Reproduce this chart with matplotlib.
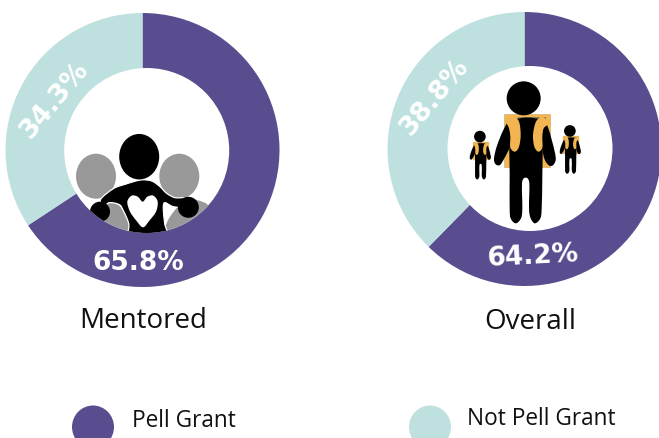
import matplotlib
matplotlib.use("Agg")
import matplotlib.pyplot as plt
from matplotlib.patches import Circle, Ellipse, PathPatch, Rectangle
from matplotlib.path import Path

groups = ["Mentored", "Overall"]
pell = [65.8, 64.2]
not_pell = [34.3, 38.8]
legend_labels = ["Pell Grant", "Not Pell Grant"]
PURPLE, TEAL = "#5a4d8f", "#bee0df"
ORANGE, GREY = "#f2b551", "#999999"
H = 438

plt.rcParams["font.family"] = ["Open Sans", "DejaVu Sans"]
fig = plt.figure(figsize=(6.59, 4.38), dpi=100)
ax = fig.add_axes([0, 0, 1, 1])


def Y(y):
    return H - y


for cx, cy, a, b in [(142.5, 150, pell[0], not_pell[0]), (524.5, 149, pell[1], not_pell[1])]:
    ax.pie([a, b], colors=[PURPLE, TEAL], startangle=90, counterclock=False,
           radius=137, center=(cx, Y(cy)), frame=True)
ax.set_xlim(0, 659)
ax.set_ylim(0, H)
ax.set_aspect("auto")
ax.axis("off")

holeL = Circle((146.7, Y(150.5)), 82.5, fc="white", ec="none", zorder=3)
holeR = Circle((530, Y(148.5)), 82.5, fc="white", ec="none", zorder=3)
ax.add_patch(holeL)
ax.add_patch(holeR)


def smooth(points):
    """Closed Catmull-Rom outline passing through the given points."""
    n = len(points)
    verts = [points[0]]
    codes = [Path.MOVETO]
    for i in range(n):
        p0, p1, p2, p3 = points[i - 1], points[i], points[(i + 1) % n], points[(i + 2) % n]
        c1 = (p1[0] + (p2[0] - p0[0]) / 6, p1[1] + (p2[1] - p0[1]) / 6)
        c2 = (p2[0] - (p3[0] - p1[0]) / 6, p2[1] - (p3[1] - p1[1]) / 6)
        verts += [c1, c2, p2]
        codes += [Path.CURVE4, Path.CURVE4, Path.CURVE4]
    return Path(verts, codes)


# ---- mentor icon, outline points taken from a 3x view with origin (70,130)
def m(p):
    return (70 + p[0] / 3, Y(130 + p[1] / 3))


def add_m(points, color, z=4, ec="none", lw=0):
    patch = PathPatch(smooth([m(p) for p in points]), fc=color, ec=ec, lw=lw, zorder=z)
    ax.add_patch(patch)
    patch.set_clip_path(holeL)
    return patch


# grey figures
for cx in (96, 179.3):
    ax.add_patch(Ellipse((cx, Y(176.2)), 40, 45, fc=GREY, ec="none", zorder=4))
add_m([(110, 213), (145, 225), (170, 260), (185, 300), (188, 330), (70, 330), (70, 270), (105, 240)], GREY, 4)
add_m([(380, 210), (420, 235), (430, 330), (285, 330), (290, 280), (315, 240), (345, 210)], GREY, 4)

# mentor, with a thin white edge separating it from the grey figures
mentor = [(212, 150), (245, 153), (270, 170), (290, 190), (315, 203), (345, 205), (345, 230),
          (310, 230), (284, 218), (280, 240), (284, 280), (288, 330), (184, 330), (176, 280),
          (160, 242), (148, 224), (118, 218), (100, 230), (92, 208), (130, 176), (165, 163)]
add_m(mentor, "black", 6, ec="white", lw=0.9)
ax.add_patch(Ellipse((139.2, Y(156.7)), 40, 45.5, fc="black", ec="none", zorder=6))
hand1 = Circle((100, Y(211.7)), 10, fc="black", ec="none", zorder=6)
hand2 = Circle((188.3, Y(207.3)), 10.5, fc="black", ec="none", zorder=6)
ax.add_patch(hand1)
ax.add_patch(hand2)
hand1.set_clip_path(holeL)
hand2.set_clip_path(holeL)
# heart
heart = [(218, 215), (232, 200), (250, 197), (263, 215), (258, 245), (238, 272), (219, 292),
         (199, 272), (180, 245), (172, 215), (185, 197), (203, 200)]
add_m(heart, "white", 7)


# ---- student icons, outline points taken from a 3x view with origin (465,75)
def person(cx, top, s):
    def t(p):
        x = cx + s * (p[0] - 177)
        y = top + s * (p[1] - 18)
        return (465 + x / 3, Y(75 + y / 3))

    def shape(points, color, z):
        ax.add_patch(PathPatch(smooth([t(p) for p in points]), fc=color, ec="none", zorder=z))

    # backpack
    x0, y0 = t((116, 276))
    x1, y1 = t((254, 117))
    ax.add_patch(Rectangle((x0, y0), x1 - x0, y1 - y0, fc=ORANGE, ec="#d9b67c", lw=0.6 * s, zorder=4))
    x0, y0 = t((160, 132))
    x1, y1 = t((242, 126))
    ax.add_patch(Rectangle((x0, y0), x1 - x0, y1 - y0, fc="#8f7f5f", ec="none", zorder=4))
    # head
    hx, hy = t((176, 70))
    ax.add_patch(Circle((hx, hy), 17 * s, fc="black", ec="none", zorder=5))
    # torso and legs
    shape([(135, 150), (165, 130), (210, 130), (232, 150), (232, 300), (230, 400), (226, 430),
           (210, 445), (197, 430), (192, 400), (192, 318), (172, 318), (172, 400), (168, 430),
           (152, 445), (137, 430), (134, 400), (134, 300)], "black", 5)
    # arms
    shape([(135, 135), (115, 165), (95, 215), (87, 252), (92, 268), (105, 270), (118, 250),
           (135, 215), (150, 160)], "black", 5)
    shape([(235, 135), (250, 160), (268, 225), (272, 255), (262, 272), (248, 268), (235, 240),
           (225, 160)], "black", 5)
    # straps
    shape([(125, 140), (145, 125), (162, 140), (167, 180), (162, 215), (150, 230), (136, 218),
           (136, 185), (132, 160)], ORANGE, 6)
    shape([(250, 145), (232, 125), (213, 140), (204, 180), (208, 215), (220, 230), (232, 218),
           (232, 185), (236, 160)], ORANGE, 6)


person(177, 18, 1.0)
person(45, 167, 0.343)
person(315, 150, 0.343)

# ---- value labels
labels = [
    (f"{pell[0]}%", 138, 263.5, 0),
    (f"{not_pell[0]}%", 54, 100, 50),
    (f"{pell[1]}%", 533, 256.5, 3),
    (f"{not_pell[1]}%", 434.5, 97, 50),
]
for s, x, y, rot in labels:
    ax.text(x, Y(y), s, color="white", fontsize=19, fontweight="bold", family="DejaVu Sans",
            ha="center", va="center", rotation=rot, rotation_mode="anchor", zorder=8)

# ---- group names
for name, x, y in zip(groups, (143.5, 530), (321, 322)):
    ax.text(x, Y(y), name, color="#111111", fontsize=20, fontweight=500, ha="center", va="center", zorder=8)

# ---- legend
for label, color, cx, tx, ty in zip(legend_labels, (PURPLE, TEAL), (93, 430), (132, 467), (421, 419)):
    ax.add_patch(Ellipse((cx, Y(427)), 42, 43, fc=color, ec="none"))
    ax.text(tx, Y(ty), label, color="#111111", fontsize=16.3, ha="left", va="center")

fig.savefig("out.png", dpi=100)
